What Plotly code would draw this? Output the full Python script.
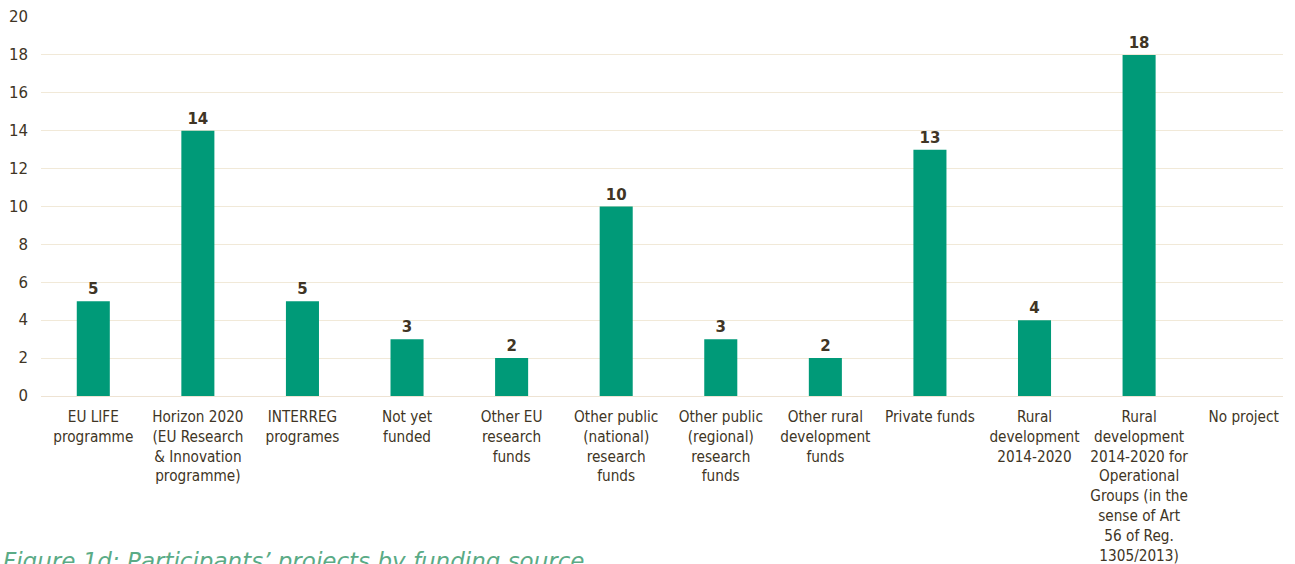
import plotly.graph_objects as go

categories = [
    "EU LIFE<br>programme",
    "Horizon 2020<br>(EU Research<br>& Innovation<br>programme)",
    "INTERREG<br>programes",
    "Not yet<br>funded",
    "Other EU<br>research<br>funds",
    "Other public<br>(national)<br>research<br>funds",
    "Other public<br>(regional)<br>research<br>funds",
    "Other rural<br>development<br>funds",
    "Private funds",
    "Rural<br>development<br>2014-2020",
    "Rural<br>development<br>2014-2020 for<br>Operational<br>Groups (in the<br>sense of Art<br>56 of Reg.<br>1305/2013)",
    "No project",
]
values = [5, 14, 5, 3, 2, 10, 3, 2, 13, 4, 18, 0]
labels = [str(v) if v else "" for v in values]

FONT = "DejaVu Sans Condensed, DejaVu Sans"
TXT = "#403525"

fig = go.Figure(go.Bar(
    x=categories, y=values, text=labels, textposition="outside",
    textfont=dict(family="DejaVu Sans", size=15, color=TXT, weight="bold"),
    marker=dict(color="#009a78", line=dict(width=0)),
    width=0.316, cliponaxis=False,
))

fig.update_layout(
    width=1295, height=564,
    margin=dict(l=41, r=12, t=17, b=168),
    plot_bgcolor="white", paper_bgcolor="white",
    showlegend=False,
    font=dict(family=FONT, size=15, color=TXT),
    yaxis=dict(range=[0, 20], dtick=2, gridcolor="#f1e9d8", gridwidth=1,
               zeroline=True, zerolinecolor="#eee3d3", zerolinewidth=1,
               tickfont=dict(family="DejaVu Sans", size=15, color=TXT), ticks="", ticklen=0,
               showline=False, automargin=False, ticklabelstandoff=12),
    xaxis=dict(tickfont=dict(size=15.2, color=TXT), showline=False, ticks="",
               automargin=False, ticklabelstandoff=10, range=[-0.5, 11.376]),
    annotations=[dict(
        text="Figure 1d: Participants’ projects by funding source",
        xref="paper", yref="paper", x=-0.032, y=-0.396,
        xanchor="left", yanchor="top", showarrow=False,
        font=dict(family="DejaVu Sans", size=23, color="#5aab86", style="italic"),
    )],
)

fig.write_html("out.html", config={"displayModeBar": False},
               post_script="document.body.style.margin='0';document.body.style.overflow='hidden';")
